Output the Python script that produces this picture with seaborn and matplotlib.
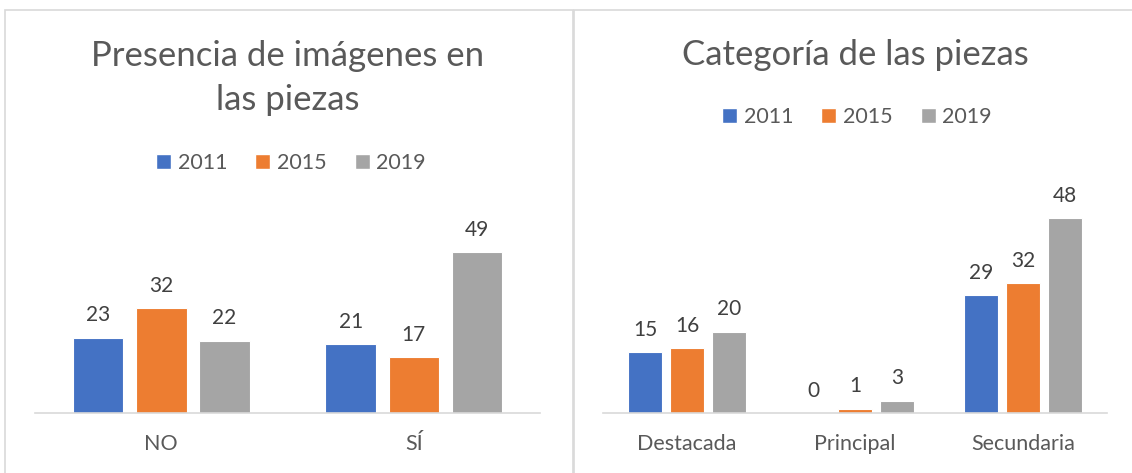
import pandas as pd
import matplotlib.pyplot as plt
import seaborn as sns
from matplotlib.patches import Rectangle, Patch

years = ['2011', '2015', '2019']
colors = ['#4472C4', '#ED7D31', '#A5A5A5']

img_cats = ['NO', 'SÍ']
img_2011 = [23, 21]
img_2015 = [32, 17]
img_2019 = [22, 49]

cat_cats = ['Destacada', 'Principal', 'Secundaria']
cat_2011 = [15, 0, 29]
cat_2015 = [16, 1, 32]
cat_2019 = [20, 3, 48]


def long_df(cats, a, b, c):
    rows = []
    for yr, vals in zip(years, [a, b, c]):
        for cat, v in zip(cats, vals):
            rows.append({'cat': cat, 'year': yr, 'val': v})
    return pd.DataFrame(rows)


df_img = long_df(img_cats, img_2011, img_2015, img_2019)
df_cat = long_df(cat_cats, cat_2011, cat_2015, cat_2019)

sns.set_style('white')
plt.rcParams['font.family'] = ['Lato', 'DejaVu Sans']

W, H = 1132, 473
fig = plt.figure(figsize=(W / 100, H / 100), dpi=100)

# panel borders
fig.patches.append(Rectangle((5 / W, -0.1), 568 / W, (H - 10) / H + 0.1,
                             transform=fig.transFigure, fill=False,
                             edgecolor='#d9d9d9', lw=1.2))
fig.patches.append(Rectangle((574 / W, -0.1), 1.0, (H - 10) / H + 0.1,
                             transform=fig.transFigure, fill=False,
                             edgecolor='#d9d9d9', lw=1.2))

txt = '#595959'
lab = '#404040'


def draw(df, x0, x1, px_per_unit, title, title_y, leg_x, leg_y):
    top_px, base_px = 200, 413
    ax = fig.add_axes([x0 / W, (H - base_px) / H, (x1 - x0) / W, (base_px - top_px) / H])
    sns.barplot(data=df, x='cat', y='val', hue='year', palette=colors,
                saturation=1, width=0.75, gap=0.2, edgecolor='white',
                linewidth=0.8, errorbar=None, ax=ax, legend=False)
    ax.set_ylim(0, (base_px - top_px) / px_per_unit)
    for cont in ax.containers:
        ax.bar_label(cont, fmt='%d', padding=9, fontsize=15, color=lab)
    sns.despine(ax=ax, left=True)
    ax.spines['bottom'].set_color('#d9d9d9')
    ax.spines['bottom'].set_linewidth(1.2)
    ax.set_yticks([])
    ax.set_xlabel('')
    ax.set_ylabel('')
    ax.tick_params(axis='x', length=0, pad=15, labelsize=15.5, labelcolor=txt)
    cx = (x0 + x1) / 2
    fig.text(cx / W, (H - title_y) / H, title, ha='center', va='center',
             fontsize=25, color=txt, linespacing=1.5)
    handles = [Patch(facecolor=c, label=y) for c, y in zip(colors, years)]
    fig.legend(handles=handles, loc='center', ncol=3, frameon=False,
               bbox_to_anchor=(leg_x / W, (H - leg_y) / H),
               fontsize=15.5, labelcolor=txt, handlelength=0.7, handleheight=0.7,
               handletextpad=0.3, columnspacing=1.3)
    return ax


draw(df_img, 35, 540, 3.28, 'Presencia de imágenes en\nlas piezas', 78, 291, 163)
draw(df_cat, 603, 1107, 4.06, 'Categoría de las piezas', 55, 857, 117)

fig.savefig('out.png', dpi=100)
